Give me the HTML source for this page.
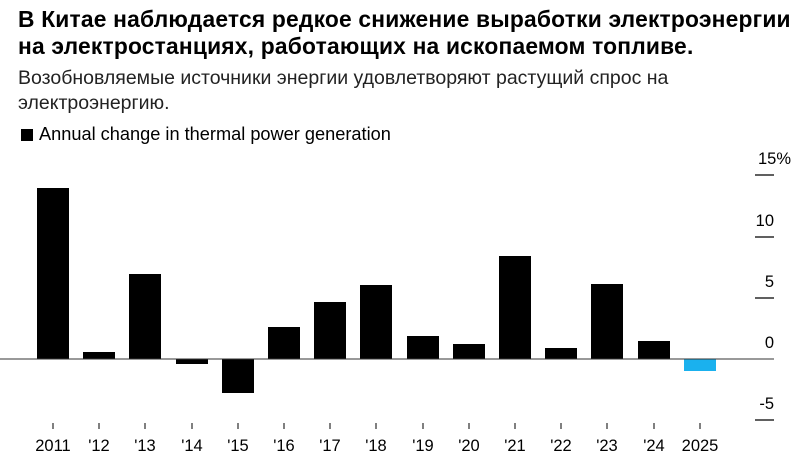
<!DOCTYPE html><html><head><meta charset="utf-8"><style>
body{margin:0;width:808px;height:462px;background:#fff;overflow:hidden;font-family:"Liberation Sans","Noto Sans CJK SC",sans-serif;}
.t{position:absolute;left:18px;top:6px;font-size:22.8px;font-weight:bold;line-height:27px;color:#000;white-space:nowrap;letter-spacing:0.2px}
.s{position:absolute;left:18px;top:66px;font-size:19.5px;line-height:25px;color:#222;white-space:nowrap}
.l{position:absolute;left:21px;top:124px;font-size:18.2px;color:#000;white-space:nowrap}
.l i{display:inline-block;width:12px;height:12px;background:#000;margin-right:6px;vertical-align:-1px}
</style></head><body>
<div class="t">В Китае наблюдается редкое снижение выработки электроэнергии<br>на электростанциях, работающих на ископаемом топливе.</div>
<div class="s">Возобновляемые источники энергии удовлетворяют растущий спрос на<br>электроэнергию.</div>
<div class="l"><i></i>Annual change in thermal power generation</div>
<svg width="808" height="462" style="position:absolute;left:0;top:0" font-family="Liberation Sans, sans-serif">
<g stroke="#000" stroke-width="1.3">
<line x1="755" x2="774" y1="175" y2="175"/><line x1="755" x2="774" y1="237" y2="237"/><line x1="755" x2="774" y1="298" y2="298"/><line x1="755" x2="774" y1="420" y2="420"/>
</g>
<g font-size="16.5" text-anchor="end" fill="#000">
<text x="791" y="164">15%</text><text x="774" y="226">10</text><text x="774" y="287">5</text><text x="774" y="348">0</text><text x="774" y="409">-5</text>
</g>
<g fill="#000">
<rect x="37" y="188" width="32" height="171"/>
<rect x="83" y="352" width="32" height="7"/>
<rect x="129" y="274" width="32" height="85"/>
<rect x="176" y="359" width="32" height="5"/>
<rect x="222" y="359" width="32" height="34"/>
<rect x="268" y="327" width="32" height="32"/>
<rect x="314" y="302" width="32" height="57"/>
<rect x="360" y="285" width="32" height="74"/>
<rect x="407" y="336" width="32" height="23"/>
<rect x="453" y="344" width="32" height="15"/>
<rect x="499" y="256" width="32" height="103"/>
<rect x="545" y="348" width="32" height="11"/>
<rect x="591" y="284" width="32" height="75"/>
<rect x="638" y="341" width="32" height="18"/>
</g>
<rect x="684" y="359" width="32" height="12" fill="#1ab1ee"/>
<line x1="0" x2="774" y1="359" y2="359" stroke="#333" stroke-width="1"/>
<g stroke="#000" stroke-width="1">
<line x1="53" x2="53" y1="423" y2="429"/><line x1="99" x2="99" y1="423" y2="429"/><line x1="145" x2="145" y1="423" y2="429"/><line x1="192" x2="192" y1="423" y2="429"/><line x1="238" x2="238" y1="423" y2="429"/><line x1="284" x2="284" y1="423" y2="429"/><line x1="330" x2="330" y1="423" y2="429"/><line x1="376" x2="376" y1="423" y2="429"/><line x1="423" x2="423" y1="423" y2="429"/><line x1="469" x2="469" y1="423" y2="429"/><line x1="515" x2="515" y1="423" y2="429"/><line x1="561" x2="561" y1="423" y2="429"/><line x1="607" x2="607" y1="423" y2="429"/><line x1="654" x2="654" y1="423" y2="429"/><line x1="700" x2="700" y1="423" y2="429"/>
</g>
<g font-size="16.5" text-anchor="middle" fill="#000">
<text x="53" y="451">2011</text><text x="99" y="451">'12</text><text x="145" y="451">'13</text><text x="192" y="451">'14</text><text x="238" y="451">'15</text><text x="284" y="451">'16</text><text x="330" y="451">'17</text><text x="376" y="451">'18</text><text x="423" y="451">'19</text><text x="469" y="451">'20</text><text x="515" y="451">'21</text><text x="561" y="451">'22</text><text x="607" y="451">'23</text><text x="654" y="451">'24</text><text x="700" y="451">2025</text>
</g>
</svg>
</body></html>
